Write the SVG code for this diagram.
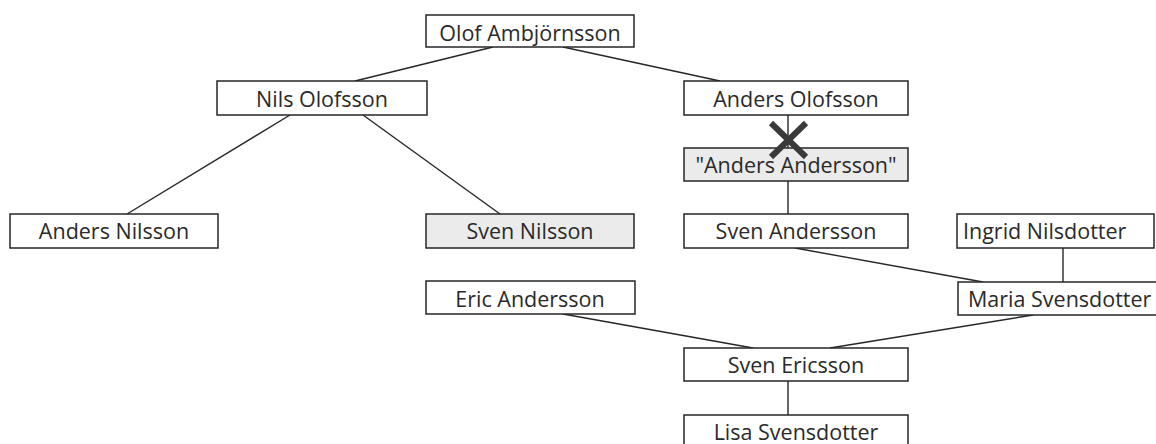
<svg xmlns="http://www.w3.org/2000/svg" width="1156" height="444" viewBox="0 0 1156 444">
<style>
.b{fill:#fff;stroke:#262626;stroke-width:1.5}
.g{fill:#ebebeb;stroke:#262626;stroke-width:1.5}
.t{font-family:"Open Sans","Liberation Sans",sans-serif;font-size:21.5px;fill:#2a2a2a;text-anchor:middle}
.s{text-anchor:start}
.l{stroke:#262626;stroke-width:1.4;fill:none}
.x{stroke:#3a3a3a;stroke-width:6;stroke-linecap:butt}
</style>
<rect width="1156" height="444" fill="#fff"/>
<g id="connectors">
<line class="l" x1="493" y1="47" x2="355" y2="81"/>
<line class="l" x1="563" y1="47" x2="720" y2="81"/>
<line class="l" x1="290" y1="115" x2="127" y2="214"/>
<line class="l" x1="363" y1="115" x2="500" y2="214"/>
<line class="l" x1="788" y1="115" x2="788" y2="148"/>
<line class="l" x1="788" y1="181" x2="788" y2="214"/>
<line class="l" x1="795" y1="248" x2="983" y2="282"/>
<line class="l" x1="1063" y1="248" x2="1063" y2="282"/>
<line class="l" x1="563" y1="314" x2="753" y2="348"/>
<line class="l" x1="1033" y1="315" x2="830" y2="348"/>
<line class="l" x1="788" y1="381" x2="788" y2="415"/>
</g>
<g id="olof"><rect class="b" x="426" y="15" width="208" height="32"/><text class="t" x="530" y="41">Olof Ambjörnsson</text></g>
<g id="nils"><rect class="b" x="217" y="81" width="210" height="34"/><text class="t" x="322" y="107">Nils Olofsson</text></g>
<g id="anders-olofsson"><rect class="b" x="684" y="81" width="224" height="34"/><text class="t" x="796" y="107">Anders Olofsson</text></g>
<g id="anders-andersson"><rect class="g" x="684" y="148" width="224" height="33"/><text class="t" x="796" y="173">"Anders Andersson"</text></g>
<g id="anders-nilsson"><rect class="b" x="10" y="214" width="208" height="34"/><text class="t" x="114" y="239">Anders Nilsson</text></g>
<g id="sven-nilsson"><rect class="g" x="426" y="214" width="208" height="34"/><text class="t" x="530" y="239">Sven Nilsson</text></g>
<g id="sven-andersson"><rect class="b" x="684" y="214" width="224" height="34"/><text class="t" x="796" y="239">Sven Andersson</text></g>
<g id="ingrid"><rect class="b" x="957" y="214" width="197" height="34"/><text class="t s" x="963" y="239">Ingrid Nilsdotter</text></g>
<g id="eric"><rect class="b" x="426" y="281" width="209" height="33"/><text class="t" x="530" y="307">Eric Andersson</text></g>
<g id="maria"><rect class="b" x="958" y="282" width="220" height="33"/><text class="t s" x="968" y="307">Maria Svensdotter</text></g>
<g id="sven-ericsson"><rect class="b" x="684" y="348" width="224" height="33"/><text class="t" x="796" y="373">Sven Ericsson</text></g>
<g id="lisa"><rect class="b" x="684" y="415" width="224" height="34"/><text class="t" x="796" y="440">Lisa Svensdotter</text></g>
<g id="cross"><line class="x" x1="771" y1="123" x2="806" y2="157"/><line class="x" x1="806" y1="123" x2="771" y2="157"/></g>
</svg>
